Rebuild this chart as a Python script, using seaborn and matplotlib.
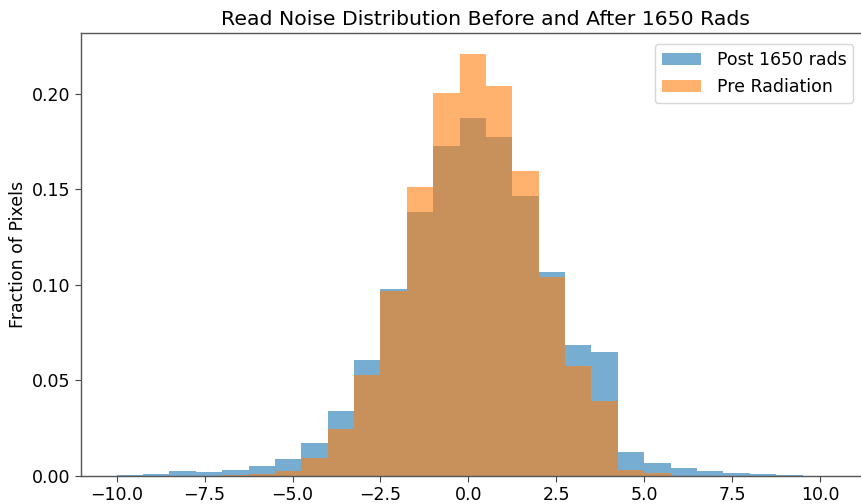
import numpy as np
import pandas as pd
import matplotlib
matplotlib.use("Agg")
import matplotlib.pyplot as plt
import seaborn as sns

# Histogram bin edges (27 bins of width 0.75 from -10 to 10.25)
bin_edges = np.linspace(-10.0, 10.25, 28)

# Bar heights (fraction of pixels per bin)
post_1650 = [0.0003, 0.0010, 0.0025, 0.0020, 0.0030, 0.0052, 0.0087, 0.0175,
             0.0340, 0.0607, 0.0977, 0.1384, 0.1728, 0.1873, 0.1773, 0.1466,
             0.1066, 0.0686, 0.0647, 0.0124, 0.0068, 0.0040, 0.0025, 0.0016,
             0.0009, 0.0005, 0.0002]
pre_rad = [0.0, 0.0, 0.0, 0.0, 0.0003, 0.0008, 0.0028, 0.0093,
           0.0244, 0.0529, 0.0970, 0.1515, 0.2003, 0.2209, 0.2042, 0.1597,
           0.1044, 0.0576, 0.0390, 0.0031, 0.0014, 0.0, 0.0, 0.0,
           0.0, 0.0, 0.0]

labels = ["Post 1650 rads", "Pre Radiation"]
title = "Read Noise Distribution Before and After 1650 Rads"
ylabel = "Fraction of Pixels"

sns.set_style("ticks")
plt.rcParams['font.family'] = ['DejaVu Sans']
plt.rcParams['text.color'] = 'black'
plt.rcParams['axes.labelcolor'] = 'black'
plt.rcParams['xtick.color'] = 'black'
plt.rcParams['ytick.color'] = 'black'

centers = (bin_edges[:-1] + bin_edges[1:]) / 2
df = pd.DataFrame({"center": centers, "post": post_1650, "pre": pre_rad})

fig = plt.figure(figsize=(8.62, 5.04), dpi=100)
ax = fig.add_axes([0.094, 0.0556, 0.9089, 0.879])

sns.histplot(data=df, x="center", weights="post", bins=list(bin_edges),
             color="C0", alpha=0.6, linewidth=0, label=labels[0], ax=ax)
sns.histplot(data=df, x="center", weights="pre", bins=list(bin_edges),
             color="C1", alpha=0.6, linewidth=0, label=labels[1], ax=ax)

ax.set_xlim(-11.0125, 11.2625)
ax.set_ylim(0, 0.2319)
ax.set_xticks([-10, -7.5, -5, -2.5, 0, 2.5, 5, 7.5, 10])
ax.set_xticklabels(["\u221210.0", "\u22127.5", "\u22125.0", "\u22122.5", "0.0",
                    "2.5", "5.0", "7.5", "10.0"])
ax.set_yticks([0, 0.05, 0.10, 0.15, 0.20])
ax.set_yticklabels(["0.00", "0.05", "0.10", "0.15", "0.20"])
ax.tick_params(labelsize=12.5, length=4, color="#444444")
ax.set_ylabel(ylabel, fontsize=12.5)
ax.set_xlabel("")
ax.set_title(title, fontsize=14.7, pad=6, x=0.516)
for s in ax.spines.values():
    s.set_visible(True)
    s.set_color("#555555")
    s.set_linewidth(1.0)

ax.legend(loc="upper right", fontsize=12.5, framealpha=0.8,
          handlelength=2.25, handletextpad=0.9, borderaxespad=0.65)

fig.savefig("out.png", dpi=100)
